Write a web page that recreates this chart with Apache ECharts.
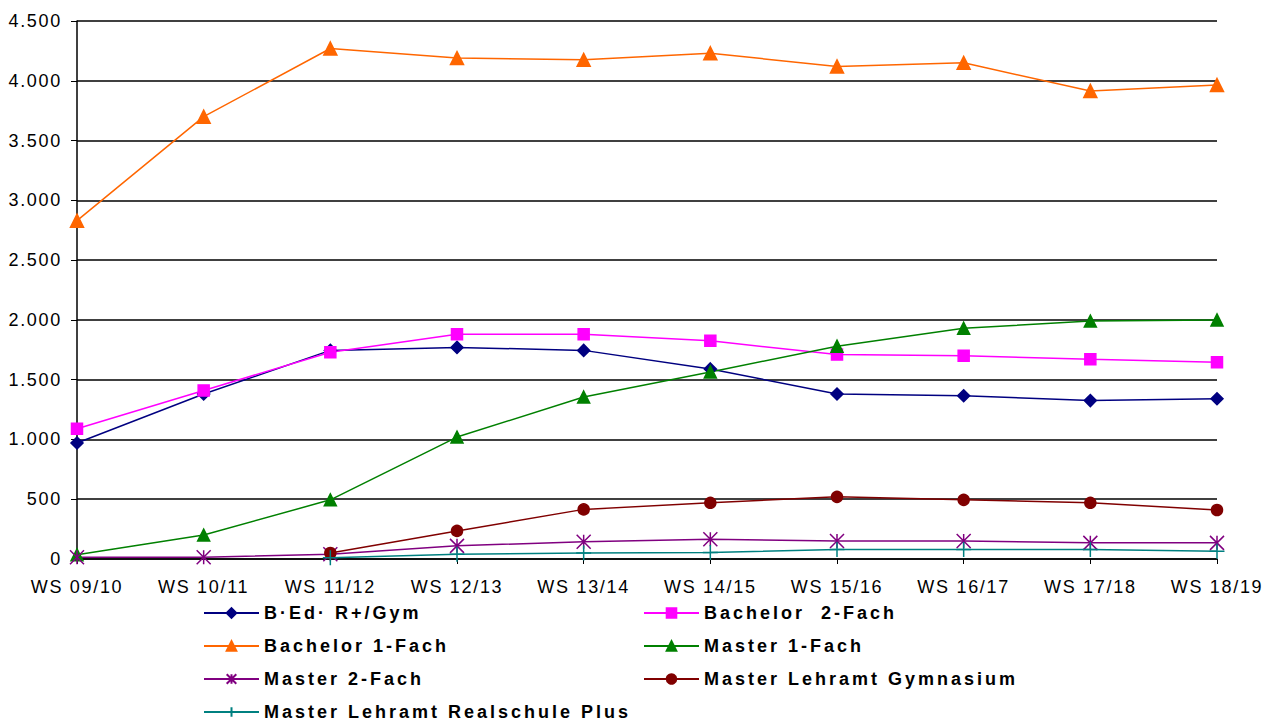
<!DOCTYPE html>
<html>
<head>
<meta charset="utf-8">
<title>Studierende</title>
<script src="https://cdn.jsdelivr.net/npm/echarts@6/dist/echarts.min.js"></script>
<style>
html, body { margin: 0; padding: 0; background: #fff; }
#line_main { width: 1282px; height: 722px; }
/* the original chart has wide letter spacing */
#line_main text { letter-spacing: 1.7px; }
#line_main text[style*="bold"] { letter-spacing: 3px; }
</style>
</head>
<body>
<div id="line_main"></div>
<script>
var semester = [ 'WS 09/10', 'WS 10/11', 'WS 11/12', 'WS 12/13', 'WS 13/14',
		'WS 14/15', 'WS 15/16', 'WS 16/17', 'WS 17/18', 'WS 18/19' ];

var bEd = [ 970, 1380, 1745, 1770, 1745, 1590, 1380, 1365, 1325, 1340 ];
var bachelor2 = [ 1090, 1410, 1730, 1880, 1880, 1825, 1710, 1700, 1670, 1645 ];
var bachelor1 = [ 2830, 3700, 4270, 4190, 4175, 4230, 4120, 4150, 3915, 3965 ];
var master1 = [ 35, 200, 495, 1020, 1355, 1565, 1780, 1930, 1990, 2000 ];
var master2 = [ 15, 15, 40, 110, 145, 165, 150, 150, 135, 135 ];
var masterGym = [ '-', '-', 50, 235, 415, 470, 520, 495, 470, 410 ];
var masterRP = [ '-', '-', 10, 40, 50, 55, 80, 80, 80, 65 ];

var legendLeft = [ 'B·Ed· R+/Gym', 'Bachelor 1-Fach', 'Master 2-Fach',
		'Master Lehramt Realschule Plus' ];
var legendRight = [ 'Bachelor  2-Fach', 'Master 1-Fach',
		'Master Lehramt Gymnasium' ];

var FONT = '"Liberation Sans", Arial, sans-serif';

function punkt(v) {
	return String(v).replace(/\B(?=(\d{3})+(?!\d))/g, '.');
}

function serie(name, data, color, symbol, size) {
	return {
		name : name,
		type : 'line',
		data : data,
		symbol : symbol,
		symbolSize : size,
		connectNulls : false,
		lineStyle : {
			color : color,
			width : 1.5
		},
		itemStyle : {
			color : color,
			borderColor : color,
			borderWidth : 1.5
		},
		emphasis : {
			disabled : true
		}
	};
}

var legendBase = {
	orient : 'vertical',
	padding : 0,
	itemWidth : 55,
	itemHeight : 12,
	itemGap : 13,
	top : 603,
	textStyle : {
		fontFamily : FONT,
		fontSize : 18,
		fontWeight : 'bold',
		color : '#000',
		lineHeight : 20
	}
};

var lineChart = echarts.init(document.getElementById('line_main'), null, {
	renderer : 'svg'
});

var option = {
	animation : false,
	backgroundColor : '#fff',
	grid : {
		left : 77,
		right : 65,
		top : 21,
		bottom : 163
	},
	legend : [ Object.assign({}, legendBase, {
		left : 203,
		data : legendLeft
	}), Object.assign({}, legendBase, {
		left : 643,
		data : legendRight
	}) ],
	xAxis : {
		type : 'category',
		boundaryGap : false,
		data : semester,
		axisLine : {
			lineStyle : {
				color : '#000',
				width : 1.5
			}
		},
		axisTick : {
			alignWithLabel : true,
			length : 5,
			lineStyle : {
				color : '#000'
			}
		},
		axisLabel : {
			margin : 19,
			fontFamily : FONT,
			fontSize : 18,
			color : '#000'
		}
	},
	yAxis : {
		type : 'value',
		min : 0,
		max : 4500,
		interval : 500,
		axisLine : {
			show : true,
			lineStyle : {
				color : '#000',
				width : 1.5
			}
		},
		axisTick : {
			show : true,
			length : 6,
			lineStyle : {
				color : '#000'
			}
		},
		splitLine : {
			lineStyle : {
				color : '#000',
				width : 1.5
			}
		},
		axisLabel : {
			margin : 15,
			fontFamily : FONT,
			fontSize : 18,
			color : '#000',
			formatter : punkt
		}
	},
	series : [
			serie('B·Ed· R+/Gym', bEd, '#000080', 'diamond', 12),
			serie('Bachelor  2-Fach', bachelor2, '#ff00ff', 'rect', 11),
			serie('Bachelor 1-Fach', bachelor1, '#ff6600', 'triangle', 13),
			serie('Master 1-Fach', master1, '#008000', 'triangle', 12),
			serie('Master 2-Fach', master2, '#800080',
					'path://M0,0L10,10M10,0L0,10M5,0L5,10', 14),
			serie('Master Lehramt Gymnasium', masterGym, '#800000', 'circle', 11),
			serie('Master Lehramt Realschule Plus', masterRP, '#008080',
					'path://M5,0L5,10M1,5L9,5', 15) ]
};

lineChart.setOption(option);
</script>
</body>
</html>
